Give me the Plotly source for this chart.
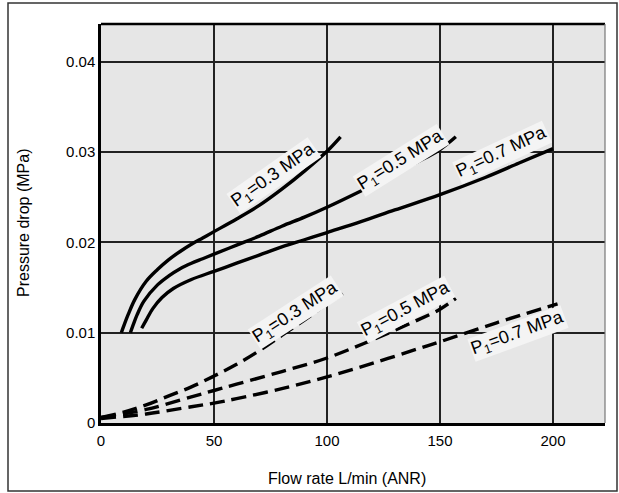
import plotly.graph_objects as go

# ---- data ----
solid_03_x = [9, 10, 12, 15, 20, 25, 30, 35, 40, 45, 50, 60, 70, 80, 90, 100, 106]
solid_03_y = [0.0100, 0.0107, 0.0120, 0.0137, 0.0157, 0.0170, 0.0181, 0.0190, 0.0198, 0.0205, 0.0212,
              0.0226, 0.0241, 0.0259, 0.0279, 0.0301, 0.0317]

solid_05_x = [13, 14, 16, 19, 25, 30, 35, 40, 45, 50, 60, 70, 80, 90, 100, 115, 130, 140, 150, 157]
solid_05_y = [0.0100, 0.0107, 0.0120, 0.0135, 0.0153, 0.0163, 0.0171, 0.0177, 0.0182, 0.0187, 0.0197,
              0.0207, 0.0218, 0.0228, 0.0239, 0.0257, 0.0276, 0.0289, 0.0303, 0.0317]

solid_07_x = [18, 20, 23, 27, 32, 40, 50, 60, 70, 80, 90, 100, 115, 130, 150, 170, 185, 200]
solid_07_y = [0.0105, 0.0114, 0.0127, 0.0139, 0.0149, 0.0159, 0.0168, 0.0177, 0.0186, 0.0195, 0.0203,
              0.0211, 0.0223, 0.0236, 0.0253, 0.0272, 0.0288, 0.0304]

dash_03_x = [0, 10, 20, 30, 40, 50, 60, 70, 80, 90, 100, 107]
dash_03_y = [0.0006, 0.0012, 0.0020, 0.0030, 0.0040, 0.0052, 0.0065, 0.0080, 0.0097, 0.0114, 0.0132, 0.0143]

dash_05_x = [0, 20, 40, 50, 60, 80, 100, 120, 140, 150, 157]
dash_05_y = [0.0006, 0.0015, 0.0029, 0.0036, 0.0043, 0.0057, 0.0072, 0.0092, 0.0114, 0.0126, 0.0138]

dash_07_x = [0, 20, 40, 50, 60, 80, 100, 120, 140, 150, 175, 202]
dash_07_y = [0.0005, 0.0010, 0.0018, 0.0022, 0.0027, 0.0038, 0.0051, 0.0066, 0.0082, 0.0090, 0.0111, 0.0132]

label_texts = ["P<sub>1</sub>=0.3 MPa", "P<sub>1</sub>=0.5 MPa", "P<sub>1</sub>=0.7 MPa",
               "P<sub>1</sub>=0.3 MPa", "P<sub>1</sub>=0.5 MPa", "P<sub>1</sub>=0.7 MPa"]

x_ticks = [0, 50, 100, 150, 200]
x_tick_labels = ["0", "50", "100", "150", "200"]
y_ticks = [0, 0.01, 0.02, 0.03, 0.04]
y_tick_labels = ["0", "0.01", "0.02", "0.03", "0.04"]

# ---- label placement / style ----
label_pos = [(76.5, 0.0274, -35), (132.7, 0.0291, -32), (177.4, 0.0300, -25),
             (86.3, 0.0122, -33), (135.0, 0.0126, -28), (184.5, 0.0099, -20)]

FONT = "Liberation Sans, Arial, Helvetica, sans-serif"
LW = 3.4
DASH = "15px,7px"

fig = go.Figure()
for xs, ys in [(solid_03_x, solid_03_y), (solid_05_x, solid_05_y), (solid_07_x, solid_07_y)]:
    fig.add_trace(go.Scatter(x=xs, y=ys, mode="lines",
                             line=dict(color="black", width=LW, shape="spline", smoothing=1.0),
                             showlegend=False, hoverinfo="skip"))
for xs, ys in [(dash_03_x, dash_03_y), (dash_05_x, dash_05_y), (dash_07_x, dash_07_y)]:
    fig.add_trace(go.Scatter(x=xs, y=ys, mode="lines",
                             line=dict(color="black", width=LW, dash=DASH, shape="spline", smoothing=1.0),
                             showlegend=False, hoverinfo="skip"))

annotations = []
for txt, (ax, ay, ang) in zip(label_texts, label_pos):
    annotations.append(dict(x=ax, y=ay, xref="x", yref="y", text=txt, showarrow=False,
                            textangle=ang, font=dict(family=FONT, size=18, color="black"),
                            bgcolor="#f4f4f4", borderpad=0))

L, R, T, B = 101, 14, 24, 70
W, H = 619, 493
pw, ph = W - L - R, H - T - B


def px_x(p):
    return (p - L) / pw


def px_y(p):
    return (H - B - p) / ph


annotations.append(dict(x=px_x(347), y=px_y(478), xref="paper", yref="paper", text="Flow rate L/min (ANR)",
                        xanchor="center", yanchor="middle",
                        showarrow=False, font=dict(family=FONT, size=16, color="black")))
annotations.append(dict(x=px_x(23), y=px_y(223), xref="paper", yref="paper", text="Pressure drop (MPa)",
                        xanchor="center", yanchor="middle",
                        textangle=-90, showarrow=False, font=dict(family=FONT, size=16, color="black")))

shapes = [
    # outer frame
    dict(type="rect", xref="paper", yref="paper", x0=px_x(8), x1=px_x(617),
         y0=px_y(491), y1=px_y(3), line=dict(color="#333", width=1.5), layer="below"),
    # top border of plot
    dict(type="line", xref="paper", yref="paper", x0=0, x1=1, y0=1, y1=1, line=dict(color="black", width=2.5)),
    # right border of plot
    dict(type="line", xref="paper", yref="paper", x0=1, x1=1, y0=0, y1=1, line=dict(color="#777", width=1.2)),
]

fig.update_layout(
    width=W, height=H,
    margin=dict(l=L, r=R, t=T, b=B, autoexpand=False),
    paper_bgcolor="white", plot_bgcolor="#e6e6e6",
    annotations=annotations, shapes=shapes,
    font=dict(family=FONT, size=15, color="black"),
)
fig.update_xaxes(range=[0, 223], tickvals=x_ticks, ticktext=x_tick_labels,
                 showgrid=True, gridcolor="#222", gridwidth=1.5, zeroline=False,
                 showline=True, linecolor="black", linewidth=2.5,
                 ticks="outside", ticklen=2, tickcolor="rgba(0,0,0,0)",
                 tickfont=dict(family=FONT, size=15, color="black"))
fig.update_yaxes(range=[0, 0.0442], tickvals=y_ticks, ticktext=y_tick_labels,
                 showgrid=True, gridcolor="#222", gridwidth=1.5, zeroline=False,
                 showline=True, linecolor="black", linewidth=2.5,
                 ticks="",
                 tickfont=dict(family=FONT, size=15, color="black"))

fig.write_html("out.html", config={"displayModeBar": False},
               post_script="document.body.style.margin='0';document.body.style.overflow='hidden';")
